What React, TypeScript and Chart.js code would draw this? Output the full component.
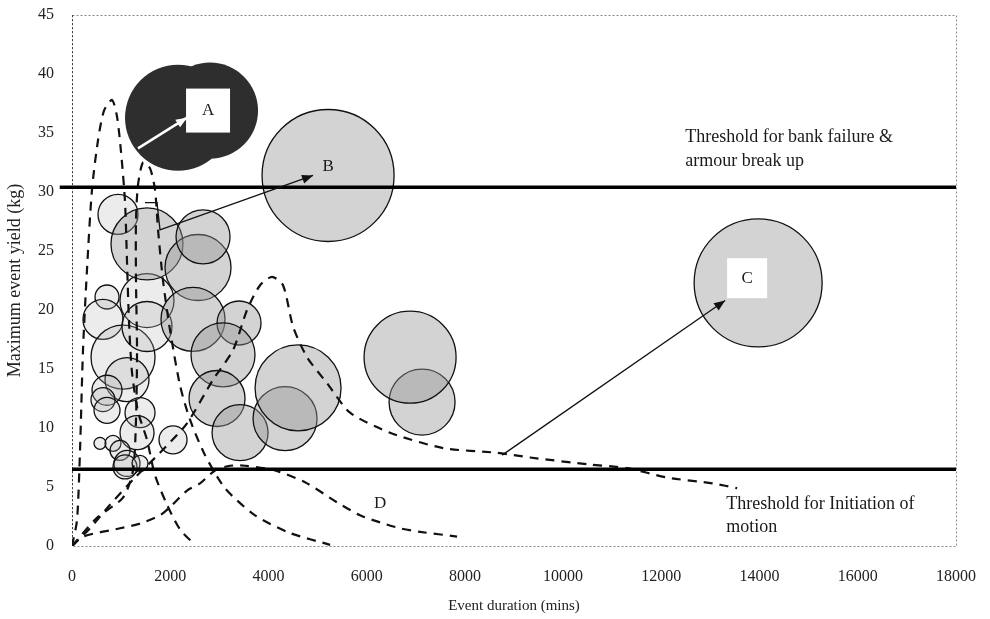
import React, { useEffect, useRef } from "react";
import { Chart, registerables, BubbleController } from "chart.js";

Chart.register(...registerables);
// keep the plot frame fixed: bubbles must not enlarge the layout padding
(BubbleController.prototype as any).getMaxOverflow = function () { return false; };

// ---------- data ----------
const xTickValues = [0, 2000, 4000, 6000, 8000, 10000, 12000, 14000, 16000, 18000];
const yTickValues = [0, 5, 10, 15, 20, 25, 30, 35, 40, 45];

const thresholdBank = 30.4;
const thresholdMotion = 6.5;

// light (small, early) events
const lightBubbles = [
  { x: 937, y: 28.1, r: 20 },
  { x: 713, y: 21.1, r: 12 },
  { x: 631, y: 19.2, r: 20 },
  { x: 1039, y: 16.0, r: 32 },
  { x: 1120, y: 14.1, r: 22 },
  { x: 713, y: 13.2, r: 15 },
  { x: 631, y: 12.4, r: 12 },
  { x: 713, y: 11.5, r: 13 },
  { x: 1385, y: 11.3, r: 15 },
  { x: 1324, y: 9.6, r: 17 },
  { x: 570, y: 8.7, r: 6 },
  { x: 835, y: 8.7, r: 8 },
  { x: 978, y: 8.1, r: 10 },
  { x: 1120, y: 7.0, r: 13 },
  { x: 1079, y: 6.7, r: 12 },
  { x: 1385, y: 7.0, r: 8 },
  { x: 2057, y: 9.0, r: 14 },
  { x: 1527, y: 20.8, r: 27 },
  { x: 1527, y: 18.6, r: 25 },
];

// grey (larger) events
const greyBubbles = [
  { x: 1527, y: 25.6, r: 36 },
  { x: 2566, y: 23.6, r: 33 },
  { x: 2668, y: 26.2, r: 27 },
  { x: 2464, y: 19.2, r: 32 },
  { x: 3401, y: 18.9, r: 22 },
  { x: 3075, y: 16.2, r: 32 },
  { x: 2953, y: 12.5, r: 28 },
  { x: 3422, y: 9.6, r: 28 },
  { x: 4338, y: 10.8, r: 32 },
  { x: 4603, y: 13.4, r: 43 },
  { x: 7128, y: 12.2, r: 33 },
  { x: 6884, y: 16.0, r: 46 },
  { x: 5214, y: 31.4, r: 66 },
  { x: 13971, y: 22.3, r: 64 },
];

// event A (dark)
const darkBubbles = [
  { x: 2159, y: 36.3, r: 53 },
  { x: 2811, y: 36.9, r: 48 },
];

// dashed event paths
const curve1 = [
  { x: 0, y: 0 }, { x: 102, y: 2.2 }, { x: 163, y: 8.1 }, { x: 224, y: 16.6 }, { x: 305, y: 23.4 },
  { x: 407, y: 30.2 }, { x: 530, y: 34.4 }, { x: 652, y: 36.9 }, { x: 815, y: 37.8 }, { x: 916, y: 36.4 },
  { x: 998, y: 33.4 }, { x: 1079, y: 29.2 }, { x: 1120, y: 24.1 }, { x: 1161, y: 19.0 }, { x: 1222, y: 14.7 },
  { x: 1344, y: 11.4 }, { x: 1527, y: 9.0 }, { x: 1690, y: 6.0 }, { x: 1935, y: 3.5 }, { x: 2200, y: 1.4 },
  { x: 2505, y: 0.1 },
];
const curve2 = [
  { x: 0, y: 0 }, { x: 509, y: 2.4 }, { x: 1039, y: 4.1 }, { x: 1242, y: 6.4 }, { x: 1303, y: 10.7 },
  { x: 1324, y: 16.6 }, { x: 1303, y: 22.5 }, { x: 1303, y: 27.6 }, { x: 1344, y: 30.6 }, { x: 1446, y: 32.5 },
  { x: 1589, y: 32.0 }, { x: 1690, y: 30.2 }, { x: 1752, y: 26.8 }, { x: 1853, y: 22.5 }, { x: 1996, y: 18.3 },
  { x: 2200, y: 13.6 }, { x: 2403, y: 10.7 }, { x: 2709, y: 7.7 }, { x: 3116, y: 4.9 }, { x: 3727, y: 2.6 },
  { x: 4440, y: 1.1 }, { x: 5255, y: 0.1 },
];
const curve3 = [
  { x: 0, y: 0 }, { x: 367, y: 1.5 }, { x: 774, y: 3.5 }, { x: 1283, y: 5.8 }, { x: 1792, y: 7.9 },
  { x: 2342, y: 10.4 }, { x: 2872, y: 14.1 }, { x: 3279, y: 16.6 }, { x: 3564, y: 20.0 }, { x: 3829, y: 22.1 },
  { x: 4073, y: 22.8 }, { x: 4297, y: 22.1 }, { x: 4501, y: 18.6 }, { x: 4786, y: 16.0 }, { x: 5193, y: 13.8 },
  { x: 5662, y: 11.3 }, { x: 6477, y: 9.6 }, { x: 7556, y: 8.3 }, { x: 8656, y: 7.9 }, { x: 9328, y: 7.5 },
  { x: 10550, y: 6.9 }, { x: 11303, y: 6.6 }, { x: 12118, y: 5.8 }, { x: 13055, y: 5.3 }, { x: 13544, y: 4.9 },
];
const curveD = [
  { x: 0, y: 0 }, { x: 224, y: 0.8 }, { x: 978, y: 1.5 }, { x: 1385, y: 1.9 }, { x: 1792, y: 2.6 },
  { x: 1996, y: 3.3 }, { x: 2342, y: 4.7 }, { x: 2607, y: 5.3 }, { x: 2912, y: 6.4 }, { x: 3218, y: 6.8 },
  { x: 3523, y: 6.8 }, { x: 4134, y: 6.4 }, { x: 4745, y: 5.4 }, { x: 5397, y: 3.7 }, { x: 5866, y: 2.6 },
  { x: 6273, y: 2.0 }, { x: 6680, y: 1.5 }, { x: 7088, y: 1.2 }, { x: 7841, y: 0.8 },
];

// annotations (data coordinates)
const boxLabels = [
  { text: "A", x: 2770, y: 36.9, box: 44 },
  { text: "B", x: 5214, y: 32.2, box: 0 },
  { text: "C", x: 13747, y: 22.7, box: 40 },
  { text: "D", x: 6273, y: 3.6, box: 0 },
];
const noteLines = [
  { text: "Threshold for bank failure &", x: 12485, y: 34.6 },
  { text: "armour break up", x: 12485, y: 32.6 },
  { text: "Threshold for Initiation of", x: 13320, y: 3.5 },
  { text: "motion", x: 13320, y: 1.6 },
];
const arrowPaths = [
  { pts: [[1344, 33.7], [2342, 36.3]], color: "#ffffff" },
  { pts: [[1487, 29.1], [1731, 29.1], [1792, 26.8], [4908, 31.4]], color: "#111111" },
  { pts: [[8758, 7.7], [13299, 20.8]], color: "#111111" },
];

const FONT = "'Liberation Serif', 'Times New Roman', serif";

const zeroPad = (s: any) => {
  s.paddingTop = 0;
  s.paddingBottom = 0;
  s.paddingLeft = 0;
  s.paddingRight = 0;
};

const framePlugin = {
  id: "frame",
  beforeDatasetsDraw(chart: any) {
    const { ctx, chartArea: a } = chart;
    ctx.save();
    ctx.strokeStyle = "#8a8a8a";
    ctx.lineWidth = 1;
    ctx.setLineDash([2, 2]);
    ctx.strokeRect(a.left + 0.5, a.top + 0.5, a.right - a.left, a.bottom - a.top);
    ctx.strokeStyle = "#444";
    ctx.beginPath();
    ctx.moveTo(a.left + 0.5, a.top);
    ctx.lineTo(a.left + 0.5, a.bottom);
    ctx.stroke();
    ctx.restore();
  },
};

const notesPlugin = {
  id: "notes",
  afterDatasetsDraw(chart: any) {
    const { ctx } = chart;
    const xs = chart.scales.x;
    const ys = chart.scales.y;
    ctx.save();
    arrowPaths.forEach((a) => {
      const p = a.pts.map(([x, y]) => [xs.getPixelForValue(x), ys.getPixelForValue(y)]);
      ctx.strokeStyle = a.color;
      ctx.fillStyle = a.color;
      ctx.lineWidth = a.color === "#ffffff" ? 2.5 : 1.3;
      ctx.setLineDash([]);
      ctx.beginPath();
      ctx.moveTo(p[0][0], p[0][1]);
      for (let i = 1; i < p.length; i++) ctx.lineTo(p[i][0], p[i][1]);
      ctx.stroke();
      const [x1, y1] = p[p.length - 2];
      const [x2, y2] = p[p.length - 1];
      const ang = Math.atan2(y2 - y1, x2 - x1);
      const L = 11, W = 4.5;
      ctx.beginPath();
      ctx.moveTo(x2, y2);
      ctx.lineTo(x2 - L * Math.cos(ang) + W * Math.sin(ang), y2 - L * Math.sin(ang) - W * Math.cos(ang));
      ctx.lineTo(x2 - L * Math.cos(ang) - W * Math.sin(ang), y2 - L * Math.sin(ang) + W * Math.cos(ang));
      ctx.closePath();
      ctx.fill();
    });
    ctx.font = `17px ${FONT}`;
    ctx.textAlign = "center";
    ctx.textBaseline = "middle";
    boxLabels.forEach((b) => {
      const px = xs.getPixelForValue(b.x);
      const py = ys.getPixelForValue(b.y);
      if (b.box) {
        ctx.fillStyle = "#ffffff";
        ctx.fillRect(px - b.box / 2, py - b.box / 2, b.box, b.box);
      }
      ctx.fillStyle = "#1a1a1a";
      ctx.fillText(b.text, px, py);
    });
    ctx.font = `18px ${FONT}`;
    ctx.textAlign = "left";
    noteLines.forEach((n) => {
      ctx.fillStyle = "#1a1a1a";
      ctx.fillText(n.text, xs.getPixelForValue(n.x), ys.getPixelForValue(n.y));
    });
    ctx.restore();
  },
};

const dashed = (data: any[]) => ({
  type: "line" as const,
  data,
  borderColor: "#111",
  borderWidth: 2.2,
  borderDash: [9, 7],
  pointRadius: 0,
  fill: false,
  tension: 0.25,
  order: 1,
});

export default function App() {
  const ref = useRef<HTMLCanvasElement | null>(null);
  useEffect(() => {
    if (!ref.current) return;
    const chart = new Chart(ref.current, {
      type: "bubble",
      data: {
        datasets: [
          {
            type: "line",
            data: [{ x: -250, y: thresholdBank }, { x: 18000, y: thresholdBank }],
            borderColor: "#000",
            borderWidth: 3.5,
            pointRadius: 0,
            clip: false,
            order: 0,
          } as any,
          {
            type: "line",
            data: [{ x: 0, y: thresholdMotion }, { x: 18000, y: thresholdMotion }],
            borderColor: "#000",
            borderWidth: 3.5,
            pointRadius: 0,
            order: 0,
          } as any,
          dashed(curve1) as any,
          dashed(curve2) as any,
          dashed(curve3) as any,
          dashed(curveD) as any,
          {
            data: darkBubbles,
            backgroundColor: "#2e2e2e",
            borderColor: "#2e2e2e",
            borderWidth: 0,
            order: 2,
          },
          {
            data: greyBubbles,
            backgroundColor: "rgba(150,150,150,0.42)",
            borderColor: "#111",
            borderWidth: 1.3,
            order: 3,
          },
          {
            data: lightBubbles,
            backgroundColor: "rgba(180,180,180,0.25)",
            borderColor: "#111",
            borderWidth: 1.3,
            order: 4,
          },
        ],
      },
      options: {
        animation: false,
        responsive: true,
        maintainAspectRatio: false,
        layout: { autoPadding: false, padding: { top: 15, right: 34, left: 0, bottom: 0 } },
        plugins: { legend: { display: false }, tooltip: { enabled: false } },
        scales: {
          x: {
            type: "linear",
            min: 0,
            max: 18000,
            afterFit: (s: any) => { s.height = 73; zeroPad(s); },
            afterBuildTicks: (s: any) => { s.ticks = xTickValues.map((v) => ({ value: v })); },
            grid: { display: false, drawTicks: false },
            border: { display: false },
            ticks: { color: "#222", padding: 21, font: { family: FONT, size: 16 }, callback: (v: any) => String(v) },
            title: { display: true, text: "Event duration (mins)", color: "#222", font: { family: FONT, size: 15 }, padding: { top: 0, bottom: 4 } },
          },
          y: {
            type: "linear",
            min: 0,
            max: 45,
            afterFit: (s: any) => { s.width = 72; zeroPad(s); },
            afterBuildTicks: (s: any) => { s.ticks = yTickValues.map((v) => ({ value: v })); },
            grid: { display: false, drawTicks: false },
            border: { display: false },
            ticks: { color: "#222", padding: 18, font: { family: FONT, size: 16 } },
            title: { display: true, text: "Maximum event yield (kg)", color: "#222", font: { family: FONT, size: 18 }, padding: { top: 4, bottom: 0 } },
          },
        },
      } as any,
      plugins: [framePlugin, notesPlugin],
    });
    return () => chart.destroy();
  }, []);
  return (
    <div style={{ position: "absolute", left: 0, top: 0, width: 990, height: 619, background: "#fff" }}>
      <canvas ref={ref} />
    </div>
  );
}
